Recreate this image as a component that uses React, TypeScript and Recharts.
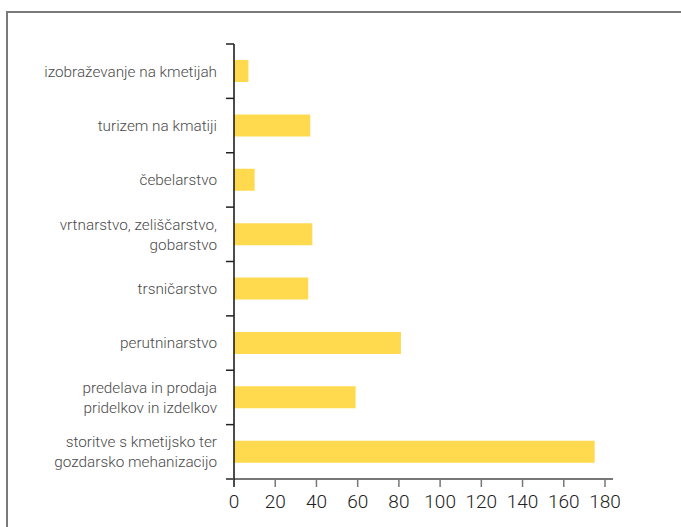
import React from "react";
import { BarChart, Bar, XAxis, YAxis, ReferenceLine } from "recharts";

const categories: string[][] = [
  ["izobraževanje na kmetijah"],
  ["turizem na kmatiji"],
  ["čebelarstvo"],
  ["vrtnarstvo, zeliščarstvo,", "gobarstvo"],
  ["trsničarstvo"],
  ["perutninarstvo"],
  ["predelava in prodaja", "pridelkov in izdelkov"],
  ["storitve s kmetijsko ter", "gozdarsko mehanizacijo"],
];

const values: number[] = [7, 37, 10, 38, 36, 81, 59, 175];

const xTicks: number[] = [0, 20, 40, 60, 80, 100, 120, 140, 160, 180];

const data = categories.map((lines, i) => ({
  name: lines.join("\n"),
  value: values[i],
}));

const FONT = "Roboto, 'Liberation Sans', Arial, sans-serif";
const LAST = categories.length - 1;

const YTick = (props: any) => {
  const { x, y, payload, index } = props;
  const lines = String(payload.value).split("\n");
  const half = typeof payload.offset === "number" && payload.offset > 0 ? payload.offset : 27.2;
  const lh = 20;
  const startY = y - ((lines.length - 1) * lh) / 2;
  return (
    <g>
      <line x1={x} x2={x + 8} y1={y - half} y2={y - half} stroke="#222" strokeWidth={1.5} />
      {index === LAST && (
        <line x1={x} x2={x + 8} y1={y + half} y2={y + half} stroke="#555" strokeWidth={1.5} />
      )}
      <text
        x={x - 9}
        y={startY}
        textAnchor="end"
        fontFamily={FONT}
        fontWeight={300}
        fontSize={15.3}
        fill="#4a4a4a"
      >
        {lines.map((l, i) => (
          <tspan key={i} x={x - 9} y={startY + i * lh} dy="0.35em">
            {l}
          </tspan>
        ))}
      </text>
    </g>
  );
};

const XTick = (props: any) => {
  const { x, y, payload } = props;
  const axisY = y - 17;
  return (
    <g>
      <line
        x1={x}
        x2={x}
        y1={axisY}
        y2={axisY + 9}
        stroke={payload.value === 0 ? "#111" : "#777"}
        strokeWidth={1.5}
      />
      <text
        x={x}
        y={y}
        dy="0.71em"
        textAnchor="middle"
        fontFamily={FONT}
        fontWeight={300}
        fontSize={19}
        fill="#222"
      >
        {payload.value}
      </text>
    </g>
  );
};

export default function App() {
  return (
    <div
      style={{
        position: "absolute",
        left: 0,
        top: 0,
        width: 681,
        height: 527,
        overflow: "hidden",
        background: "#fff",
      }}
    >
      <div
        style={{
          position: "absolute",
          left: 6,
          top: 11,
          width: 720,
          height: 620,
          border: "2px solid #7a7a7a",
        }}
      />
      <div style={{ position: "absolute", left: 0, top: 0 }}>
        <BarChart
          width={681}
          height={527}
          data={data}
          layout="vertical"
          margin={{ top: 44, right: 68, bottom: 0, left: 0 }}
        >
          <XAxis
            type="number"
            domain={[0, 180]}
            ticks={xTicks}
            interval={0}
            padding={{ left: 8, right: 8 }}
            axisLine={{ stroke: "#777", strokeWidth: 2 }}
            tickLine={false}
            tickSize={9}
            tickMargin={7}
            height={48}
            tick={<XTick />}
          />
          <YAxis
            type="category"
            dataKey="name"
            width={226}
            axisLine={false}
            tickLine={false}
            tickSize={0}
            tickMargin={0}
            interval={0}
            tick={<YTick />}
          />
          <Bar dataKey="value" fill="#FFD94E" barSize={22} isAnimationActive={false} />
          <ReferenceLine x={0} stroke="#111" strokeWidth={1.5} />
        </BarChart>
      </div>
    </div>
  );
}
